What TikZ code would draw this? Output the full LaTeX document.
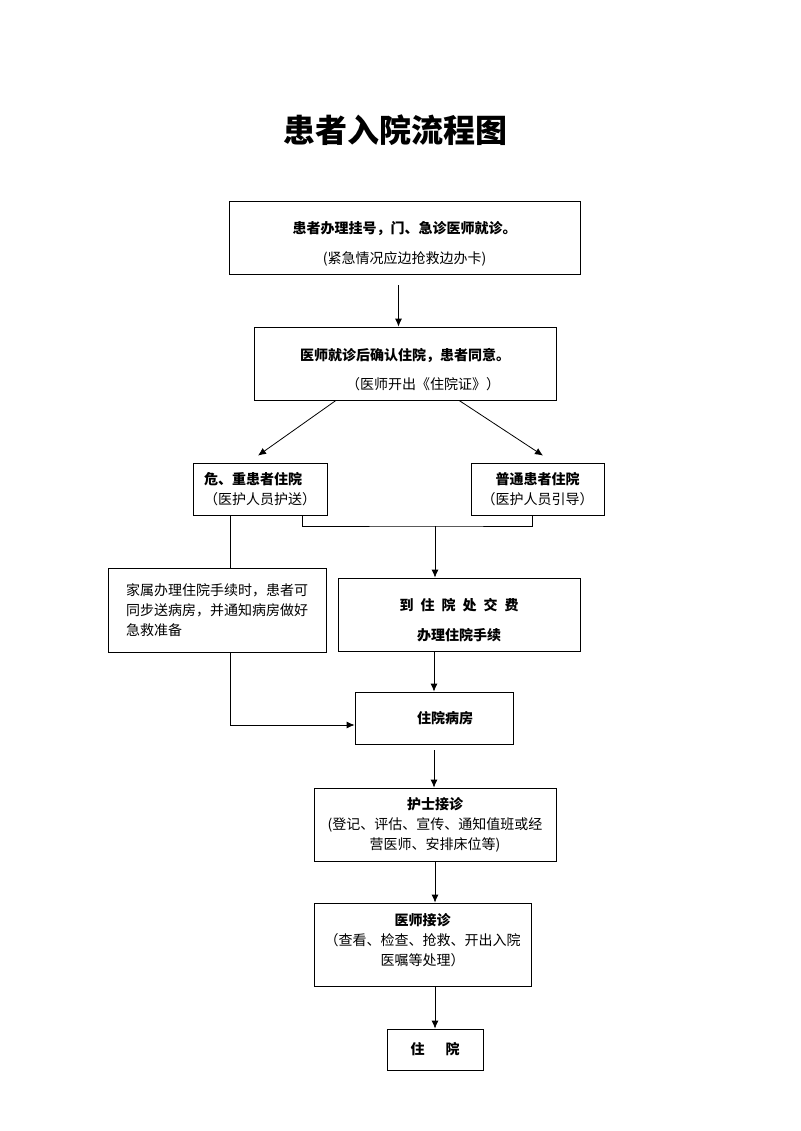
\documentclass[tikz,border=0pt]{standalone}
\usepackage{fontspec}
\setmainfont{Noto Sans CJK SC}
\usetikzlibrary{arrows.meta}

\begin{document}
\begin{tikzpicture}[x=1pt,y=-1pt,
  box/.style={draw,line width=0.8pt,align=center,inner sep=2pt,font=\fontsize{14}{20}\selectfont},
  ln/.style={line width=0.8pt},
  arr/.style={line width=0.8pt,-{Latex[length=8pt,width=7pt]}}]
  \useasboundingbox (0,0) rectangle (800,1131);

  % 标题
  \node (title) at (395,130) {\fontsize{32}{36}\selectfont\bfseries 患者入院流程图};

  % 方框
  \node[box,minimum width=351,minimum height=73] (b1) at (404.5,237.5)
    {\rule{0pt}{24pt}{\bfseries 患者办理挂号，门、急诊医师就诊。}\\[10pt](紧急情况应边抢救边办卡)};
  \node[box,minimum width=302,minimum height=73] (b2) at (405,363.5)
    {\rule{0pt}{24pt}{\bfseries 医师就诊后确认住院，患者同意。}\\[9pt]\hspace*{36pt}（医师开出《住院证》）};
  \node[box,align=left,minimum width=134,minimum height=52] (b3) at (260,489)
    {{\bfseries 危、重患者住院}\\（医护人员护送）};
  \node[box,minimum width=133,minimum height=52] (b4) at (537.5,489)
    {{\bfseries 普通患者住院}\\（医护人员引导）};
  \node[box,align=left,minimum width=218,minimum height=84] (b5) at (217,610)
    {家属办理住院手续时，患者可\\同步送病房，并通知病房做好\\急救准备};
  \node[box,minimum width=242,minimum height=73] (b6) at (459,614.5)
    {\rule{0pt}{24pt}{\bfseries 到\enspace 住\enspace 院\enspace 处\enspace 交\enspace 费}\\[10pt]{\bfseries 办理住院手续}};
  \node[box,minimum width=158,minimum height=52] (b7) at (434,718)
    {\hspace*{22pt}\bfseries 住院病房};
  \node[box,minimum width=242,minimum height=73] (b8) at (435,824.5)
    {{\bfseries 护士接诊}\\(登记、评估、宣传、通知值班或经\\营医师、安排床位等)};
  \node[box,minimum width=217,minimum height=83] (b9) at (422.5,944.5)
    {{\bfseries 医师接诊}\\（查看、检查、抢救、开出入院\\医嘱等处理）\rule[-10pt]{0pt}{10pt}};
  \node[box,minimum width=96,minimum height=41] (b10) at (435,1049.5)
    {\bfseries 住\hspace{21pt}院};

  % 连线
  \coordinate (jn) at (435,526);
  \draw[arr,shorten <=11pt] ([xshift=-6pt]b1.south) -- ([xshift=-6pt]b1.south |- b2.north);
  \draw[arr] ([xshift=-69pt]b2.south) -- ([xshift=-2pt,yshift=7pt]b3.north);
  \draw[arr] ([xshift=54pt]b2.south) -- ([xshift=5.5pt,yshift=7pt]b4.north);
  \draw[ln] ([xshift=42pt]b3.south) |- (jn) -| ([xshift=-5.5pt]b4.south);
  \draw[arr] (jn) -- (jn |- b6.north);
  \draw[ln] ([xshift=-30pt]b3.south) -- ([xshift=-30pt]b3.south |- b5.north);
  \draw[arr] ([xshift=13pt]b5.south) |- ([yshift=-7pt]b7.west);
  \draw[arr] (b6.south -| b7.north) -- (b7.north);
  \draw[arr,shorten <=6pt] (b7.south) -- (b7.south |- b8.north);
  \draw[arr] (b8.south) -- (b8.south |- b9.north);
  \draw[arr] (b8.south |- b9.south) -- (b10.north);
\end{tikzpicture}
\end{document}
